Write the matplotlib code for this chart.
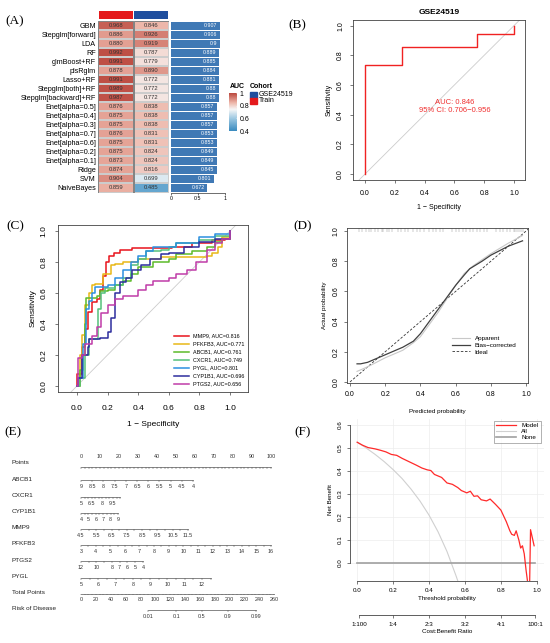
import numpy as np
import matplotlib
matplotlib.use('Agg')
import matplotlib.pyplot as plt
from matplotlib.colors import LinearSegmentedColormap
from matplotlib.patches import Rectangle

plt.rcParams['font.family'] = ['Liberation Sans', 'DejaVu Sans']

# ---------------- data ----------------
# (A) model comparison
models = ['GBM', 'Stepglm[forward]', 'LDA', 'RF', 'glmBoost+RF', 'plsRglm', 'Lasso+RF',
          'Stepglm[both]+RF', 'Stepglm[backward]+RF', 'Enet[alpha=0.5]', 'Enet[alpha=0.4]',
          'Enet[alpha=0.3]', 'Enet[alpha=0.7]', 'Enet[alpha=0.6]', 'Enet[alpha=0.2]',
          'Enet[alpha=0.1]', 'Ridge', 'SVM', 'NaiveBayes']
auc_train = [0.968, 0.886, 0.880, 0.992, 0.991, 0.878, 0.991, 0.989, 0.987, 0.876,
             0.875, 0.875, 0.876, 0.875, 0.875, 0.873, 0.874, 0.904, 0.859]
auc_test = [0.846, 0.926, 0.919, 0.787, 0.779, 0.890, 0.772, 0.772, 0.772, 0.838,
            0.838, 0.838, 0.831, 0.831, 0.824, 0.824, 0.816, 0.699, 0.485]
auc_mean = [0.907, 0.906, 0.9, 0.889, 0.885, 0.884, 0.881, 0.88, 0.88, 0.857,
            0.857, 0.857, 0.853, 0.853, 0.849, 0.849, 0.845, 0.801, 0.672]
cohorts = ['GSE24519', 'Train']

# (B) validation ROC
b_fpr = [0, 0, 0.25, 0.75, 1.0]
b_tpr = [0, 0.735, 0.853, 0.941, 1.0]

# (C) single gene ROC curves
genes = ['MMP9', 'PFKFB3', 'ABCB1', 'CXCR1', 'PYGL', 'CYP1B1', 'PTGS2']
gene_auc = [0.816, 0.771, 0.761, 0.749, 0.801, 0.696, 0.656]
roc_fpr = {
    'MMP9': [0, 0, 0.03, 0.05, 0.07, 0.10, 0.13, 0.15, 0.17, 0.19, 0.21, 0.24, 0.28, 0.36, 0.55, 0.62, 0.75, 0.88, 0.97, 1.0],
    'PFKFB3': [0, 0.02, 0.03, 0.05, 0.08, 0.10, 0.12, 0.17, 0.22, 0.25, 0.30, 0.40, 0.55, 0.85, 0.88, 0.92, 0.95, 1.0],
    'ABCB1': [0, 0.02, 0.04, 0.05, 0.06, 0.13, 0.15, 0.20, 0.25, 0.30, 0.35, 0.40, 0.50, 0.60, 0.65, 0.75, 0.85, 0.90, 0.95, 1.0],
    'CXCR1': [0, 0.02, 0.05, 0.08, 0.14, 0.16, 0.18, 0.25, 0.30, 0.35, 0.40, 0.45, 0.55, 0.60, 0.65, 0.80, 0.90, 1.0],
    'PYGL': [0, 0.01, 0.04, 0.06, 0.08, 0.10, 0.12, 0.20, 0.25, 0.30, 0.35, 0.40, 0.45, 0.50, 0.65, 0.80, 0.90, 1.0],
    'CYP1B1': [0, 0.01, 0.03, 0.07, 0.08, 0.15, 0.20, 0.22, 0.25, 0.28, 0.32, 0.36, 0.42, 0.48, 0.55, 0.60, 0.70, 0.80, 0.90, 1.0],
    'PTGS2': [0, 0.01, 0.03, 0.05, 0.10, 0.13, 0.16, 0.20, 0.25, 0.30, 0.40, 0.45, 0.50, 0.60, 0.65, 0.72, 0.78, 0.85, 0.90, 0.95, 1.0],
}
roc_tpr = {
    'MMP9': [0, 0.08, 0.25, 0.37, 0.48, 0.54, 0.56, 0.62, 0.71, 0.80, 0.84, 0.86, 0.88, 0.89, 0.89, 0.90, 0.92, 0.94, 0.95, 1.0],
    'PFKFB3': [0, 0.2, 0.33, 0.52, 0.60, 0.65, 0.66, 0.72, 0.78, 0.79, 0.80, 0.82, 0.83, 0.84, 0.86, 0.90, 0.96, 0.98],
    'ABCB1': [0, 0.10, 0.20, 0.40, 0.57, 0.58, 0.61, 0.62, 0.65, 0.68, 0.72, 0.77, 0.80, 0.82, 0.85, 0.87, 0.90, 0.93, 0.95, 1.0],
    'CXCR1': [0, 0.05, 0.20, 0.30, 0.50, 0.60, 0.63, 0.65, 0.70, 0.78, 0.82, 0.87, 0.88, 0.90, 0.92, 0.94, 0.97, 1.0],
    'PYGL': [0, 0.05, 0.27, 0.50, 0.55, 0.60, 0.64, 0.65, 0.70, 0.75, 0.80, 0.84, 0.87, 0.90, 0.92, 0.96, 0.98, 1.0],
    'CYP1B1': [0, 0.05, 0.20, 0.25, 0.30, 0.31, 0.35, 0.44, 0.60, 0.67, 0.70, 0.75, 0.78, 0.82, 0.85, 0.86, 0.90, 0.93, 0.95, 1.0],
    'PTGS2': [0, 0.18, 0.20, 0.27, 0.32, 0.38, 0.47, 0.52, 0.56, 0.58, 0.62, 0.65, 0.68, 0.70, 0.72, 0.75, 0.80, 0.88, 0.92, 0.95, 1.0],
}
gene_colors = ['#E8141C', '#E8B818', '#5DBB2A', '#55C07A', '#2C8FE0', '#2E2E9E', '#C03CA8']

# (D) calibration
cal_pred_bias = [0.04, 0.06, 0.10, 0.20, 0.30, 0.36, 0.40, 0.45, 0.50, 0.55, 0.60, 0.65, 0.68, 0.75, 0.80, 0.90, 0.98]
cal_obs_bias = [0.12, 0.12, 0.13, 0.18, 0.23, 0.27, 0.32, 0.40, 0.48, 0.56, 0.64, 0.71, 0.75, 0.80, 0.84, 0.90, 0.935]
cal_pred_app = [0.04, 0.10, 0.20, 0.30, 0.36, 0.40, 0.50, 0.55, 0.60, 0.65, 0.70, 0.80, 0.90, 0.98]
cal_obs_app = [0.07, 0.10, 0.16, 0.21, 0.26, 0.30, 0.46, 0.55, 0.64, 0.72, 0.77, 0.85, 0.92, 0.97]
rug_pred = [0.05, 0.07, 0.09, 0.11, 0.12, 0.14, 0.16, 0.18, 0.19, 0.21, 0.22, 0.24, 0.27, 0.29,
            0.31, 0.33, 0.36, 0.38, 0.40, 0.42, 0.45, 0.47, 0.49, 0.51, 0.53, 0.58, 0.60, 0.62,
            0.64, 0.66, 0.68, 0.70, 0.72, 0.74, 0.76, 0.78, 0.83, 0.85, 0.87, 0.89, 0.91, 0.93,
            0.94, 0.95, 0.96, 0.97, 0.98]

# (E) nomogram
nomo_vars = ['ABCB1', 'CXCR1', 'CYP1B1', 'MMP9', 'PFKFB3', 'PTGS2', 'PYGL']
nomo_labels = {
    'ABCB1': [9, 8.5, 8, 7.5, 7, 6.5, 6, 5.5, 5, 4.5, 4],
    'CXCR1': [5, 6.5, 8, 9.5],
    'CYP1B1': [4, 5, 6, 7, 8, 9],
    'MMP9': [4.5, 5.5, 6.5, 7.5, 8.5, 9.5, 10.5, 11.5],
    'PFKFB3': [3, 4, 5, 6, 7, 8, 9, 10, 11, 12, 13, 14, 15, 16],
    'PTGS2': [12, 10, 8, 7, 6, 5, 4],
    'PYGL': [5, 6, 7, 8, 9, 10, 11, 12],
}
nomo_start = {'ABCB1': 9, 'CXCR1': 5, 'CYP1B1': 4, 'MMP9': 4.5, 'PFKFB3': 3, 'PTGS2': 12, 'PYGL': 5}
nomo_end = {'ABCB1': 4, 'CXCR1': 10.5, 'CYP1B1': 9, 'MMP9': 11.5, 'PFKFB3': 16, 'PTGS2': 4, 'PYGL': 12.5}
nomo_maxpts = {'ABCB1': 59, 'CXCR1': 20.6, 'CYP1B1': 19.5, 'MMP9': 56.3, 'PFKFB3': 100, 'PTGS2': 32.6, 'PYGL': 68.2}
nomo_step = {'ABCB1': 0.5, 'CXCR1': 0.5, 'CYP1B1': 0.5, 'MMP9': 0.5, 'PFKFB3': 0.5, 'PTGS2': 1, 'PYGL': 0.5}
points_labels = [0, 10, 20, 30, 40, 50, 60, 70, 80, 90, 100]
total_labels = [0, 20, 40, 60, 80, 100, 120, 140, 160, 180, 200, 220, 240, 260]
total_max_pts = 101.6
risk_labels = [0.01, 0.1, 0.5, 0.9, 0.99]
risk_mid_total, risk_slope = 163, 15.8

# (F) decision curve
dca_thr = [0.0, 0.03, 0.06, 0.1, 0.13, 0.16, 0.19, 0.22, 0.25, 0.29, 0.33, 0.36, 0.39, 0.41, 0.43,
           0.47, 0.5, 0.53, 0.56, 0.58, 0.61, 0.63, 0.65, 0.67, 0.69, 0.72, 0.74, 0.77, 0.8, 0.83,
           0.85, 0.86, 0.875, 0.885, 0.9, 0.91, 0.92, 0.93, 0.94, 0.95, 0.96, 0.965, 0.985]
dca_model = [0.525, 0.512, 0.502, 0.496, 0.49, 0.483, 0.472, 0.468, 0.455, 0.44, 0.425, 0.413, 0.405,
             0.402, 0.385, 0.372, 0.348, 0.342, 0.328, 0.315, 0.305, 0.312, 0.29, 0.292, 0.275, 0.27,
             0.278, 0.255, 0.23, 0.18, 0.14, 0.125, 0.12, 0.14, 0.10, 0.065, 0.075, 0.04, -0.03,
             -0.09, -0.09, 0.145, 0.075]
dca_thr_all = [0, 0.05, 0.1, 0.15, 0.2, 0.25, 0.3, 0.35, 0.4, 0.45, 0.5, 0.55, 0.57]
dca_all = [0.525, 0.50, 0.472, 0.441, 0.406, 0.367, 0.321, 0.269, 0.208, 0.136, 0.05, -0.055, -0.10]
cb_ticks = [0.01, 0.2, 0.4, 0.6, 0.8, 0.99]
cb_labels = ['1:100', '1:4', '2:3', '3:2', '4:1', '100:1']

# ---------------- figure ----------------
W, H = 550, 643
fig = plt.figure(figsize=(5.5, 6.43), dpi=100)


def box(l, t, r, b):
    return fig.add_axes([l / W, 1 - b / H, (r - l) / W, (b - t) / H])


def ftxt(x, y, s, **kw):
    fig.text(x / W, 1 - y / H, s, **kw)


def r_axes(ax, fs, xpad=2, ypad=2):
    for s in ax.spines.values():
        s.set_color('#444444')
        s.set_linewidth(0.6)
    ax.tick_params(labelsize=fs, length=2.5, width=0.5, color='#444444')
    ax.tick_params(axis='x', pad=xpad)
    ax.tick_params(axis='y', pad=ypad)
    ax.set_xticks([0, 0.2, 0.4, 0.6, 0.8, 1.0])
    ax.set_xticklabels(['0.0', '0.2', '0.4', '0.6', '0.8', '1.0'])
    ax.set_yticks([0, 0.2, 0.4, 0.6, 0.8, 1.0])
    ax.set_yticklabels(['0.0', '0.2', '0.4', '0.6', '0.8', '1.0'], rotation=90, va='center')


for lab, x, y in [('(A)', 15, 21), ('(B)', 297, 25), ('(C)', 15, 226), ('(D)', 303, 226),
                  ('(E)', 13, 432), ('(F)', 303, 432)]:
    ftxt(x, y, lab, family='Liberation Serif', fontsize=9.5, ha='center', va='center')

# ---- (A) ----
cmap = LinearSegmentedColormap.from_list(
    'auc', [(0.0, '#3B8CC0'), (0.33, '#9EC9E2'), (0.57, '#F7F7F7'), (0.75, '#EDB5A8'), (1.0, '#BC4A40')])
n = len(models)
axh = box(98, 21.2, 169, 192.5)
heat = np.column_stack([auc_train, auc_test])
axh.pcolormesh(np.arange(3), np.arange(n + 1), heat, cmap=cmap, vmin=0.4, vmax=1.0,
               edgecolors='#CCCCCC', linewidth=0.3)
axh.set_xlim(0, 2)
axh.set_ylim(n, 0)
for i in range(n):
    for j in range(2):
        axh.text(j + 0.5, i + 0.5, '%.3f' % heat[i, j], ha='center', va='center', fontsize=4.2, color='#333333')
for j in range(2):
    axh.add_patch(Rectangle((j + 0.01, 0), 0.98, n, fill=False, edgecolor='#777777', lw=0.6))
axh.set_yticks(np.arange(n) + 0.5)
axh.set_yticklabels(models, fontsize=5.2)
axh.tick_params(length=0, pad=1.5)
axh.set_xticks([])
for s in axh.spines.values():
    s.set_visible(False)

axt = box(98, 10.7, 169, 19)
axt.bar([0.5, 1.5], [1, 1], width=0.97, color=['#E41A1C', '#1F4E9E'])
axt.set_xlim(0, 2)
axt.set_ylim(0, 1)
axt.axis('off')

axb = box(171, 21.2, 225, 192.5)
axb.barh(np.arange(n) + 0.5, auc_mean, height=0.85, color='#4079B5')
for i, v in enumerate(auc_mean):
    axb.text(v - 0.05, i + 0.5, ('%.3f' % v).rstrip('0'), ha='right', va='center', fontsize=3.8, color='white')
axb.set_xlim(0, 1)
axb.set_ylim(n, 0)
axb.set_yticks([])
axb.set_xticks([0, 0.5, 1])
axb.set_xticklabels(['0', '0.5', '1'])
axb.tick_params(labelsize=3.8, length=1.5, width=0.4, pad=1)
for s in ['top', 'right', 'left']:
    axb.spines[s].set_visible(False)
axb.spines['bottom'].set_linewidth(0.4)

ftxt(237, 86, 'AUC', fontsize=5, fontweight='bold', ha='center', va='center')
axc = box(229, 93, 236, 131)
axc.imshow(np.linspace(1.0, 0.4, 100).reshape(-1, 1), cmap=cmap, vmin=0.4, vmax=1.0,
           aspect='auto', extent=[0, 1, 0.4, 1.0])
axc.set_xticks([])
axc.yaxis.tick_right()
axc.set_yticks([0.4, 0.6, 0.8, 1.0])
axc.set_yticklabels(['0.4', '0.6', '0.8', '1'])
axc.tick_params(labelsize=5, length=1.5, width=0.4, color='white', pad=1)
for s in axc.spines.values():
    s.set_visible(False)

ftxt(250, 86, 'Cohort', fontsize=5, fontweight='bold', ha='left', va='center')
for k, (c, col) in enumerate(zip(cohorts, ['#1F4E9E', '#E41A1C'])):
    fig.patches.append(Rectangle((250 / W, 1 - (98 + 6 * k) / H), 7 / W, 6 / H, color=col,
                                 transform=fig.transFigure, figure=fig))
    ftxt(259, 95 + 6 * k, c, fontsize=5, ha='left', va='center')

# ---- (B) ----
axB = box(353, 20, 525, 180)
axB.plot([-0.2, 1.2], [-0.2, 1.2], color='#CCCCCC', lw=0.6)
axB.plot(b_fpr, b_tpr, drawstyle='steps-post', color='#F02222', lw=1.0)
axB.set_xlim(-0.0805, 1.074)
axB.set_ylim(-0.040, 1.038)
r_axes(axB, 5, xpad=5, ypad=4)
axB.text(0.6, 0.48, 'AUC: 0.846', color='#F03030', ha='center', va='center', fontsize=5.5)
axB.text(0.6, 0.425, '95% CI: 0.706\u22120.956', color='#F03030', ha='center', va='center', fontsize=5.5)
axB.set_title('GSE24519', fontsize=6, fontweight='bold', pad=4)
axB.set_ylabel('Sensitivity', fontsize=5, labelpad=3)
axB.set_xlabel('1 \u2212 Specificity', fontsize=5, labelpad=5)

# ---- (C) ----
axC = box(58, 225, 248, 392)
axC.plot([-0.2, 1.2], [-0.2, 1.2], color='#CCCCCC', lw=0.6)
for g, a, col in zip(genes, gene_auc, gene_colors):
    axC.plot(roc_fpr[g], roc_tpr[g], drawstyle='steps-post', color=col, lw=1.1,
             label='%s, AUC=%.3f' % (g, a))
axC.set_xlim(-0.124, 1.118)
axC.set_ylim(-0.039, 1.039)
r_axes(axC, 6, xpad=7, ypad=5)
axC.set_ylabel('Sensitivity', fontsize=6, labelpad=3)
axC.set_xlabel('1 \u2212 Specificity', fontsize=6, labelpad=6)
axC.legend(loc='lower right', bbox_to_anchor=(1.0, 0.01), fontsize=3.9, handlelength=2.6,
           labelspacing=0.55, frameon=False, borderaxespad=0.3)

# ---- (D) ----
axD = box(347, 228, 528, 383)
axD.vlines(rug_pred, 0.995, 1.02, color='#999999', lw=0.35)
axD.plot([0, 1.05], [0, 1.05], ls=(0, (3, 2)), color='#333333', lw=0.6, label='Ideal')
axD.plot(cal_pred_app, cal_obs_app, color='#C8C8C8', lw=0.8, label='Apparent')
axD.plot(cal_pred_bias, cal_obs_bias, color='#404040', lw=0.9, label='Bias\u2212corrected')
axD.set_xlim(-0.017, 1.011)
axD.set_ylim(-0.007, 1.02)
r_axes(axD, 5, xpad=3, ypad=3)
axD.set_ylabel('Actual probability', fontsize=4.5, labelpad=4)
axD.set_xlabel('Predicted probability', fontsize=4.5, labelpad=8)
hd, ld = axD.get_legend_handles_labels()
axD.legend([hd[1], hd[2], hd[0]], [ld[1], ld[2], ld[0]], loc='upper left', bbox_to_anchor=(0.55, 0.34),
           fontsize=4.5, handlelength=2.8, labelspacing=0.2, frameon=False)

# ---- (E) nomogram ----
axE = box(0, 445, 275, 630)
axE.set_xlim(-42.6, 102.1)
axE.set_ylim(10.31, -1.11)
axE.axis('off')
lc = '#555555'
row_names = ['Points'] + nomo_vars + ['Total Points', 'Risk of Disease']
for r, name in enumerate(row_names):
    axE.text(-36.3, r, name, fontsize=4.6, ha='left', va='center', color='#222222')

# points row
axE.plot([0, 100], [0.25, 0.25], color=lc, lw=0.5)
axE.vlines(np.arange(0, 101, 2), 0.25, 0.36, color=lc, lw=0.35)
for p in points_labels:
    axE.text(p, -0.37, str(p), fontsize=3.9, ha='center', va='center', color='#333333')

for r, v in enumerate(nomo_vars, start=1):
    v0, v1, mp = nomo_start[v], nomo_end[v], nomo_maxpts[v]
    to_pts = lambda x: (x - v0) / (v1 - v0) * mp
    step = nomo_step[v] if v1 > v0 else -nomo_step[v]
    ticks = np.arange(v0, v1 + step / 2, step)
    axE.plot([0, mp], [r + 0.08, r + 0.08], color=lc, lw=0.5)
    axE.vlines(to_pts(ticks), r + 0.08, r + 0.2, color=lc, lw=0.35)
    for x in nomo_labels[v]:
        axE.text(to_pts(x), r + 0.48, '%g' % x, fontsize=3.9, ha='center', va='center', color='#333333')

# total points
tscale = total_max_pts / total_labels[-1]
axE.plot([0, total_max_pts], [8.06, 8.06], color=lc, lw=0.5)
axE.vlines(np.arange(0, 261, 5) * tscale, 8.06, 8.16, color=lc, lw=0.35)
for t in total_labels:
    axE.text(t * tscale, 8.45, str(t), fontsize=3.9, ha='center', va='center', color='#333333')

# risk
risk = np.array(risk_labels)
risk_pts = (risk_mid_total + risk_slope * np.log(risk / (1 - risk))) * tscale
axE.plot([risk_pts[0], risk_pts[-1]], [9.06, 9.06], color=lc, lw=0.5)
axE.vlines(risk_pts, 9.06, 9.18, color=lc, lw=0.35)
for rv, rp in zip(risk_labels, risk_pts):
    axE.text(rp, 9.5, '%g' % rv, fontsize=3.9, ha='center', va='center', color='#333333')

# ---- (F) decision curve ----
axF = box(350, 419, 544, 580.5)
axF.set_xlim(-0.04, 1.04)
axF.set_ylim(-0.076, 0.626)
for gx in [0, 0.2, 0.4, 0.6, 0.8, 1.0]:
    axF.axvline(gx, color='#EDEDED', lw=0.5, zorder=0)
for gy in [0, 0.1, 0.2, 0.3, 0.4, 0.5, 0.6]:
    axF.axhline(gy, color='#EDEDED', lw=0.5, zorder=0)
axF.plot(dca_thr_all, dca_all, color='#D0D0D0', lw=0.8, label='All')
axF.plot([0, 0.99], [0, 0], color='#A0A0A0', lw=1.2, label='None')
axF.plot(dca_thr, dca_model, color='#FF2A2A', lw=0.9, label='Model')
for s in ['top', 'right']:
    axF.spines[s].set_visible(False)
axF.spines['left'].set_bounds(0, 0.6)
axF.spines['bottom'].set_bounds(0, 1)
for s in ['left', 'bottom']:
    axF.spines[s].set_color('#444444')
    axF.spines[s].set_linewidth(0.6)
axF.set_xticks([0, 0.2, 0.4, 0.6, 0.8, 1.0])
axF.set_xticklabels(['0.0', '0.2', '0.4', '0.6', '0.8', '1.0'])
axF.set_yticks([0, 0.1, 0.2, 0.3, 0.4, 0.5, 0.6])
axF.set_yticklabels(['0.0', '0.1', '0.2', '0.3', '0.4', '0.5', '0.6'], rotation=90, va='center')
axF.tick_params(labelsize=4.5, length=2.5, width=0.5, color='#444444', pad=3)
axF.set_xlabel('Threshold probability', fontsize=4.5, labelpad=2)
axF.set_ylabel('Net Benefit', fontsize=4.5, labelpad=3)
hf, lf = axF.get_legend_handles_labels()
lg = axF.legend([hf[2], hf[0], hf[1]], [lf[2], lf[0], lf[1]], loc='upper right', bbox_to_anchor=(1.0, 1.01),
                fontsize=4.5, handlelength=3.2, labelspacing=0.1, fancybox=False, borderpad=0.4)
lg.get_frame().set_edgecolor('#777777')
lg.get_frame().set_linewidth(0.5)

axcb = box(350, 614, 544, 614.5)
axcb.set_xlim(-0.04, 1.04)
for s in ['top', 'right', 'left']:
    axcb.spines[s].set_visible(False)
axcb.spines['bottom'].set_bounds(0.01, 0.99)
axcb.spines['bottom'].set_color('#444444')
axcb.spines['bottom'].set_linewidth(0.6)
axcb.set_yticks([])
axcb.set_xticks(cb_ticks)
axcb.set_xticklabels(cb_labels)
axcb.tick_params(labelsize=4.5, length=2.5, width=0.5, color='#444444', pad=3)
axcb.set_xlabel('Cost:Benefit Ratio', fontsize=4.5, labelpad=1.5)

fig.savefig('out.png', dpi=100)
